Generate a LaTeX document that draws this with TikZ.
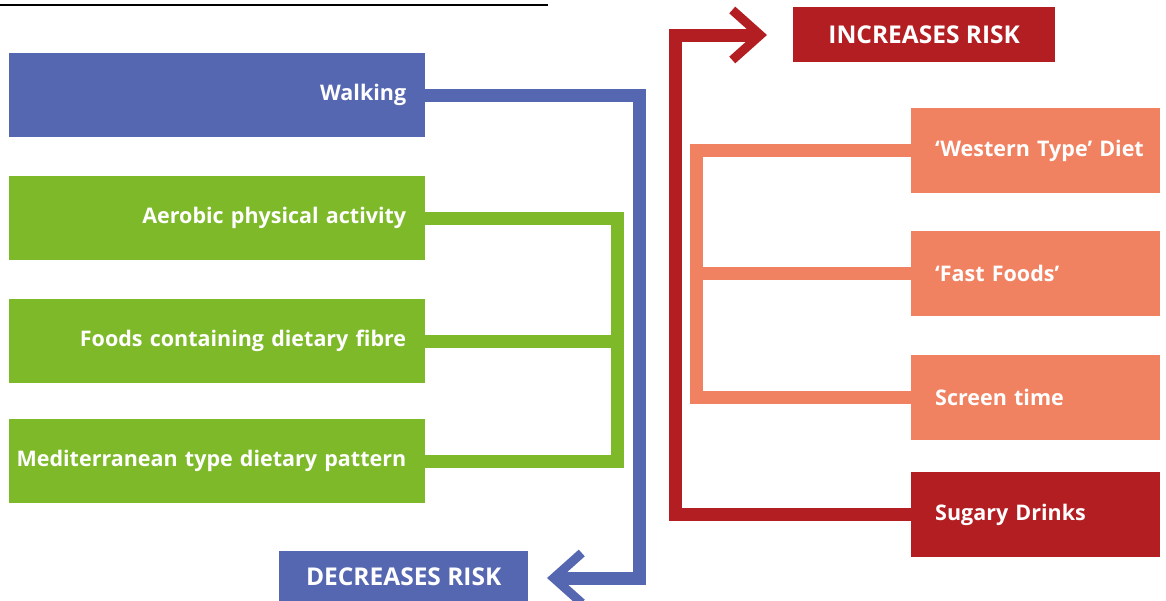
\documentclass[tikz,border=0pt]{standalone}
\usepackage{fontspec}
\setmainfont{Open Sans}
\usetikzlibrary{arrows.meta}
\definecolor{riskblue}{HTML}{5567B1}
\definecolor{riskgreen}{HTML}{7DB928}
\definecolor{risksalmon}{HTML}{F08261}
\definecolor{riskred}{HTML}{B31E22}
\hbadness=10000 \hfuzz=100pt
\begin{document}
\begin{tikzpicture}[x=1pt,y=-1pt,
  box/.style={draw=none, inner ysep=0pt, text=white, anchor=north west,
    font=\bfseries\fontsize{21.5}{25}\selectfont},
  leftbox/.style={box, minimum height=84pt, text width=378pt, inner xsep=19pt, align=right},
  rightbox/.style={box, minimum height=85pt, text width=201pt, inner xsep=24pt, align=left},
  headbox/.style={box, inner xsep=0pt, align=center, font=\bfseries\fontsize{24.5}{28}\selectfont},
  conn/.style={line width=13pt, line join=miter},
  tip/.style={-{Straight Barb[length=28pt,width=50pt,line width=9pt,sharp]}}
]
\useasboundingbox (0,0) rectangle (1166,600);
% top rule
\draw[line width=1.5pt] (0,5) -- (548,5);
% left boxes
\node[leftbox, fill=riskblue] (walk) at (9,53) {Walking};
\node[leftbox, fill=riskgreen] (aero) at (9,176) {Aerobic physical activity};
\node[leftbox, fill=riskgreen] (fibre) at (9,299) {Foods containing dietary fibre};
\node[leftbox, fill=riskgreen] (medi) at (9,419) {\makebox[\linewidth][r]{Mediterranean type dietary pattern}};
\node[headbox, fill=riskblue, minimum width=249pt, minimum height=52pt] (dec) at (279,551) {DECREASES RISK};
% right boxes
\node[headbox, fill=riskred, minimum width=262pt, minimum height=55pt] (inc) at (793,7) {INCREASES RISK};
\node[rightbox, fill=risksalmon] (west) at (911,108) {\makebox[\linewidth][l]{‘Western Type’ Diet}};
\node[rightbox, fill=risksalmon] (fast) at (911,231) {‘Fast Foods’};
\node[rightbox, fill=risksalmon] (screen) at (911,355) {Screen time};
\node[rightbox, fill=riskred] (sugar) at (911,472) {Sugary Drinks};
% coordinates
\coordinate (gv) at (617.5,0);
\coordinate (bturn) at (639.5,578);
\coordinate (dtip) at (547,578);
\coordinate (sv) at (696.5,0);
\coordinate (rturn) at (675.5,35);
\coordinate (itip) at (767,35);
% green connectors
\draw[conn, riskgreen] (aero.east) -| (gv |- medi.east) -- (medi.east);
\draw[conn, riskgreen] (fibre.east) -- (gv |- fibre.east);
% blue connector
\draw[conn, riskblue, tip] (walk.east) -| (bturn) -- (dtip);
% salmon connectors
\draw[conn, risksalmon] (west.west) -| (sv |- screen.west) -- (screen.west);
\draw[conn, risksalmon] (fast.west) -- (sv |- fast.west);
% red connector
\draw[conn, riskred, tip] (sugar.west) -| (rturn) -- (itip);
\end{tikzpicture}
\end{document}
